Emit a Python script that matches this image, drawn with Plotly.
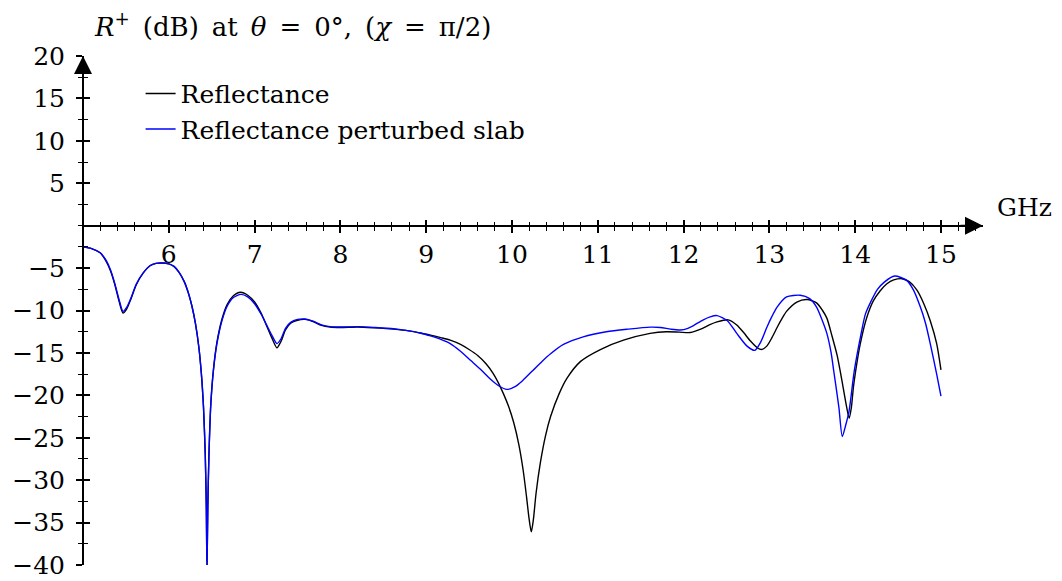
import plotly.graph_objects as go

# Reflectance of the unperturbed slab (dB) versus frequency (GHz)
freq_ref = [5.00, 5.10, 5.20, 5.27, 5.32, 5.37, 5.42, 5.466, 5.51, 5.56, 5.62, 5.70, 5.785, 5.85, 5.92,
            6.00, 6.06, 6.12, 6.18, 6.23, 6.27, 6.31, 6.35, 6.38, 6.405, 6.425, 6.437, 6.445, 6.455,
            6.468, 6.49, 6.52, 6.56, 6.62, 6.68, 6.75, 6.835, 6.92, 7.00, 7.08, 7.14, 7.20, 7.26, 7.31,
            7.36, 7.42, 7.50, 7.59, 7.68, 7.78, 7.88, 8.00, 8.20, 8.40, 8.62, 8.80, 8.93, 9.05, 9.17,
            9.28, 9.40, 9.50, 9.60, 9.70, 9.78, 9.84, 9.90, 9.96, 10.02, 10.08, 10.13, 10.17, 10.20,
            10.225, 10.25, 10.28, 10.33, 10.39, 10.45, 10.55, 10.64, 10.80, 11.03, 11.30, 11.61, 11.80,
            11.95, 12.08, 12.20, 12.30, 12.39, 12.52, 12.62, 12.70, 12.78, 12.86, 12.91, 12.97, 13.03,
            13.09, 13.15, 13.20, 13.32, 13.44, 13.55, 13.62, 13.67, 13.73, 13.79, 13.85, 13.89, 13.93,
            13.955, 13.98, 14.02, 14.06, 14.13, 14.21, 14.29, 14.37, 14.45, 14.545, 14.63, 14.72, 14.80,
            14.875, 14.95, 15.00]
r_ref = [-2.5, -2.7, -3.2, -4.2, -5.3, -6.9, -8.9, -10.3, -9.8, -8.6, -7.0, -5.6, -4.7, -4.45, -4.4,
         -4.5, -4.8, -5.5, -6.6, -8.0, -9.5, -11.5, -14.3, -17.5, -21.5, -27.0, -33.0, -40.5, -33.0,
         -27.0, -21.0, -17.0, -13.8, -11.0, -9.3, -8.3, -7.85, -8.2, -9.0, -10.4, -11.8, -13.2, -14.4, -13.6,
         -12.3, -11.5, -11.15, -11.05, -11.3, -11.75, -11.95, -12.0, -11.95, -12.05, -12.2, -12.4, -12.65, -12.9, -13.2,
         -13.5, -14.0, -14.6, -15.3, -16.3, -17.4, -18.5, -19.8, -21.3, -23.2, -25.8, -28.8, -32.0, -34.6,
         -36.1, -34.6, -31.6, -28.0, -24.8, -22.5, -19.8, -18.0, -16.0, -14.6, -13.5, -12.7, -12.5,
         -12.55, -12.6, -12.2, -11.7, -11.35, -11.1, -11.7, -12.6, -13.6, -14.4, -14.6, -14.2, -13.2,
         -12.0, -10.9, -10.1, -9.0, -8.7, -9.1, -10.0, -10.9, -13.0, -15.3, -18.5, -20.8, -22.7,
         -21.5, -19.0, -16.2, -13.9, -11.0, -8.9, -7.7, -6.85, -6.4, -6.25, -6.6, -7.6, -9.2,
         -11.2, -13.9, -17.0]

# Reflectance of the perturbed slab (dB) versus frequency (GHz)
freq_pert = [5.00, 5.10, 5.20, 5.27, 5.32, 5.37, 5.42, 5.466, 5.51, 5.56, 5.62, 5.70, 5.785, 5.85, 5.92,
             6.00, 6.06, 6.12, 6.18, 6.23, 6.27, 6.31, 6.35, 6.38, 6.405, 6.425, 6.437, 6.445, 6.455,
             6.468, 6.49, 6.52, 6.56, 6.62, 6.68, 6.75, 6.84, 6.92, 7.00, 7.08, 7.14, 7.20, 7.26, 7.31,
             7.36, 7.42, 7.50, 7.59, 7.68, 7.78, 7.88, 8.00, 8.20, 8.40, 8.62, 8.80, 8.93, 9.05, 9.17,
             9.28, 9.40, 9.52, 9.65, 9.75, 9.85, 9.94, 10.03, 10.12, 10.25, 10.35, 10.45, 10.60, 10.83,
             11.10, 11.35, 11.61, 11.73, 11.85, 11.96, 12.05, 12.12, 12.23, 12.31, 12.39, 12.51, 12.62,
             12.74, 12.83, 12.90, 12.97, 13.03, 13.09, 13.20, 13.36, 13.47, 13.55, 13.61, 13.67, 13.72,
             13.75, 13.81, 13.85, 13.89, 13.93, 13.99, 14.07, 14.12, 14.19, 14.26, 14.34, 14.46, 14.60,
             14.68, 14.76, 14.82, 14.875, 14.95, 15.00]
r_pert = [-2.5, -2.7, -3.2, -4.1, -5.2, -6.8, -8.7, -10.1, -9.6, -8.5, -6.9, -5.6, -4.7, -4.45, -4.4,
          -4.5, -4.8, -5.5, -6.6, -8.0, -9.5, -11.5, -14.3, -17.5, -21.5, -27.0, -33.0, -40.5, -33.0,
          -27.0, -21.0, -17.1, -14.0, -11.2, -9.5, -8.5, -8.1, -8.4, -9.2, -10.5, -11.7, -12.9, -13.9, -13.3,
          -12.1, -11.4, -11.05, -11.0, -11.25, -11.7, -11.9, -11.95, -11.9, -12.0, -12.15, -12.4, -12.65, -13.0, -13.4,
          -13.9, -14.8, -15.9, -17.1, -18.1, -18.9, -19.3, -19.0, -18.3, -17.0, -16.0, -15.1, -14.0, -13.1,
          -12.5, -12.2, -11.96, -12.0, -12.2, -12.3, -12.1, -11.75, -11.1, -10.75, -10.6, -11.2, -12.7,
          -14.2, -14.7, -13.7, -12.0, -10.7, -9.6, -8.4, -8.2, -8.6, -9.6, -11.0, -12.7, -15.0,
          -17.1, -21.4, -24.85, -23.5, -21.8, -17.1, -12.7, -10.4, -8.8, -7.5, -6.65, -5.94, -6.45,
          -7.6, -9.6, -11.5, -13.9, -17.5, -20.1]

# Axis ranges and tick labels
x_range = [5.0, 15.49]
y_range = [-40.0, 20.0]
x_tickvals = [6, 7, 8, 9, 10, 11, 12, 13, 14, 15]
x_ticktext = ["6", "7", "8", "9", "10", "11", "12", "13", "14", "15"]
y_tickvals = [20, 15, 10, 5, -5, -10, -15, -20, -25, -30, -35, -40]
y_ticktext = ["20", "15", "10", "5", "\u22125", "\u221210", "\u221215", "\u221220",
              "\u221225", "\u221230", "\u221235", "\u221240"]

FONT = "DejaVu Serif"
FS = 25
INK = "black"
SP = "\u2002"  # en space, for math-like spacing in the title

# fraction of the plot height at which y = 0 sits (x axis drawn through the origin)
x_axis_pos = (0 - y_range[0]) / (y_range[1] - y_range[0])

fig = go.Figure()
fig.add_trace(go.Scatter(x=freq_ref, y=r_ref, mode="lines", name="Reflectance",
                         line=dict(color="#000000", width=1.4, shape="spline", smoothing=0.7)))
fig.add_trace(go.Scatter(x=freq_pert, y=r_pert, mode="lines", name="Reflectance perturbed slab",
                         line=dict(color="#0000ff", width=1.4, shape="spline", smoothing=0.7)))
# invisible carrier trace so the mirrored tick axes are drawn
fig.add_trace(go.Scatter(x=freq_ref, y=r_ref, xaxis="x2", yaxis="y2", mode="lines",
                         line=dict(width=0), opacity=0, showlegend=False, hoverinfo="skip"))

major_x = dict(tickmode="array", tickvals=x_tickvals, ticklen=6, tickwidth=1.8, tickcolor=INK)
minor_x = dict(tick0=5, dtick=0.2, ticklen=4, tickwidth=1.3, tickcolor=INK)
major_y = dict(tickmode="array", tickvals=y_tickvals, ticklen=6, tickwidth=1.8, tickcolor=INK)
minor_y = dict(tick0=0, dtick=2.5, ticklen=4, tickwidth=1.3, tickcolor=INK)

title_text = (f"<i>R</i><sup>+</sup>{SP}(dB){SP}at{SP}<i>\u03b8</i>{SP}={SP}0\u00b0,{SP}"
              f"(<i>\u03c7</i>{SP}={SP}\u03c0/2)")

fig.update_layout(
    width=1062, height=581,
    margin=dict(l=83, r=79, t=56, b=16, autoexpand=False),
    paper_bgcolor="white", plot_bgcolor="white",
    font=dict(family=FONT, size=FS, color=INK),
    showlegend=True,
    legend=dict(x=0.064, y=0.971, xanchor="left", yanchor="top",
                bgcolor="rgba(0,0,0,0)", font=dict(family=FONT, size=FS, color=INK),
                tracegroupgap=0, itemwidth=30),
    title=dict(text=title_text,
               x=95 / 1062, xref="container", xanchor="left",
               y=1 - 27 / 581, yref="container", yanchor="middle",
               font=dict(family=FONT, size=26, color=INK)),
    xaxis=dict(range=x_range, anchor="free", position=x_axis_pos, showgrid=False, zeroline=False,
               automargin=False, showline=True, linecolor=INK, linewidth=2, ticks="outside",
               ticktext=x_ticktext, minor=dict(ticks="outside", **minor_x),
               tickfont=dict(family=FONT, size=FS, color=INK), **major_x),
    xaxis2=dict(range=x_range, overlaying="x", matches="x", anchor="free", position=x_axis_pos,
                automargin=False, showgrid=False, zeroline=False, showline=False, ticks="inside",
                showticklabels=False, minor=dict(ticks="inside", **minor_x), **major_x),
    yaxis=dict(range=y_range, anchor="free", position=0, showgrid=False, zeroline=False,
               automargin=False, showline=True, linecolor=INK, linewidth=2, ticks="outside",
               ticktext=y_ticktext, ticklabelstandoff=6, minor=dict(ticks="outside", **minor_y),
               tickfont=dict(family=FONT, size=FS, color=INK), **major_y),
    yaxis2=dict(range=y_range, overlaying="y", matches="y", anchor="free", position=0,
                automargin=False, showgrid=False, zeroline=False, showline=False, ticks="inside",
                showticklabels=False, minor=dict(ticks="inside", **minor_y), **major_y),
)

# arrow heads at the positive ends of both axes
fig.add_annotation(x=x_range[1], y=0, xref="x", yref="y", ax=-24, ay=0, text="",
                   showarrow=True, arrowhead=2, arrowsize=1.8, arrowwidth=2, arrowcolor=INK)
fig.add_annotation(x=x_range[0], y=y_range[1], xref="x", yref="y", ax=0, ay=24, text="",
                   showarrow=True, arrowhead=2, arrowsize=1.8, arrowwidth=2, arrowcolor=INK)
# unit label of the frequency axis
fig.add_annotation(x=x_range[1], y=0, xref="x", yref="y", text="GHz", showarrow=False,
                   xanchor="left", yanchor="bottom", xshift=12, yshift=2,
                   font=dict(family=FONT, size=FS, color=INK))

fig.write_html("out.html")
